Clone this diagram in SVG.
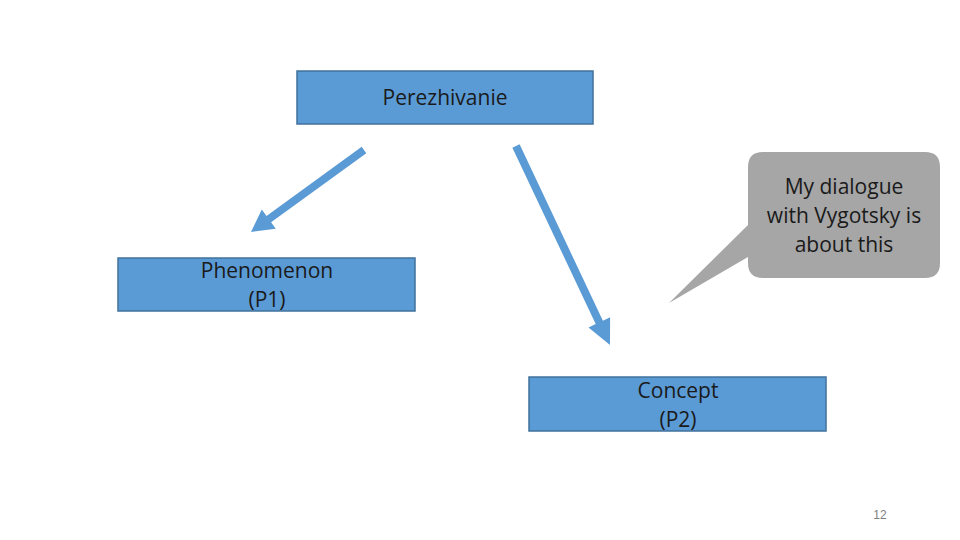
<svg xmlns="http://www.w3.org/2000/svg" width="960" height="540" viewBox="0 0 960 540">
<style>
.box{fill:#5b9bd5;stroke:#41719c;stroke-width:1.5}
.t{font-family:"Open Sans","Liberation Sans",Arial,sans-serif;font-size:21px;fill:#1a1a1a;text-anchor:middle}
.arr{fill:#5b9bd5}
</style>
<rect width="960" height="540" fill="#ffffff"/>
<g id="perezhivanie">
<rect class="box" x="297" y="71" width="296" height="53"/>
<text class="t" x="445" y="105">Perezhivanie</text>
</g>
<g id="phenomenon">
<rect class="box" x="118" y="258" width="297" height="53"/>
<text class="t" x="267" y="278">Phenomenon</text>
<text class="t" x="267" y="307">(P1)</text>
</g>
<g id="concept">
<rect class="box" x="529" y="377" width="297" height="54"/>
<text class="t" x="678" y="398">Concept</text>
<text class="t" x="678" y="427">(P2)</text>
</g>
<g id="callout">
<path d="M763,152 H925 Q940,152 940,167 V263 Q940,278 925,278 H763 Q748,278 748,263 V257 L669,303 L748,225 V167 Q748,152 763,152 Z" fill="#a6a6a6"/>
<text class="t" x="844" y="194">My dialogue</text>
<text class="t" x="844" y="223">with Vygotsky is</text>
<text class="t" x="844" y="252">about this</text>
</g>
<g id="connectors">
<polygon class="arr" points="361.7,146.8 366.3,153.2 271.1,222.3 275.8,228.8 251,232 261.8,209.4 266.5,215.9"/>
<polygon class="arr" points="519.6,144.3 512.4,147.7 595.7,324.1 588.5,327.5 610,345 610.1,317.3 602.9,320.7"/>
</g>
<text x="880" y="519" font-family="Liberation Sans,Arial,sans-serif" font-size="12" fill="#7f7f7f" text-anchor="middle">12</text>
</svg>
